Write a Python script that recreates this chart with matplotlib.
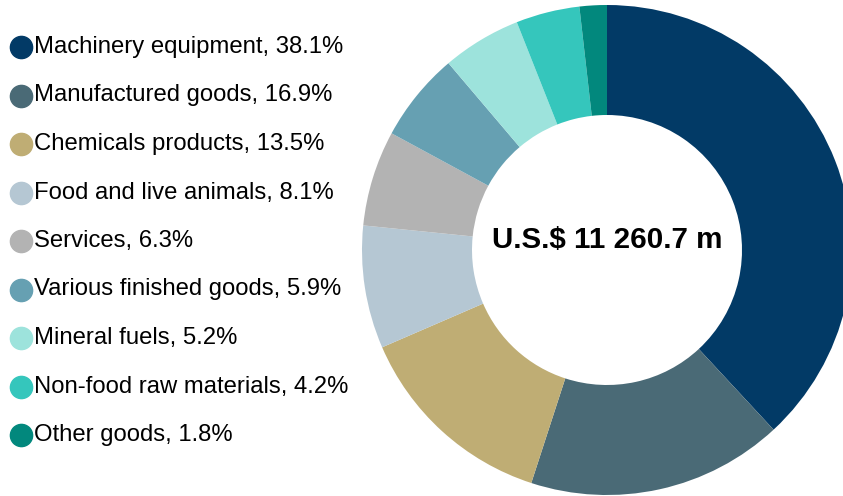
import matplotlib.pyplot as plt
from matplotlib.lines import Line2D

plt.rcParams['font.family'] = ['Liberation Sans', 'DejaVu Sans']

# Composicion de las exportaciones (porcentaje)
categorias = ['Machinery equipment', 'Manufactured goods', 'Chemicals products',
              'Food and live animals', 'Services', 'Various finished goods',
              'Mineral fuels', 'Non-food raw materials', 'Other goods']
porcentajes = [38.1, 16.9, 13.5, 8.1, 6.3, 5.9, 5.2, 4.2, 1.8]
colores = ['#023a66', '#4a6a76', '#bfad74', '#b5c7d3', '#b3b3b3',
           '#66a0b2', '#9de3dc', '#35c6bc', '#02887d']
total = 'U.S.$ 11 260.7 m'

W, H = 843, 496
fig = plt.figure(figsize=(W / 100, H / 100), dpi=100)

# Anillo: centro en (607, 250) px, radio exterior 245 px
cx, cy, r = 607, 250, 245
ax = fig.add_axes([(cx - r) / W, (H - cy - r) / H, 2 * r / W, 2 * r / H])
ax.pie(porcentajes, colors=colores, startangle=90, counterclock=False,
       radius=1, wedgeprops=dict(width=1 - 135 / 245, linewidth=0))
ax.set_xlim(-1, 1)
ax.set_ylim(-1, 1)
ax.set_aspect('equal')
ax.axis('off')

ax.text(0, 0.04, total, ha='center', va='center', fontsize=21.3,
        fontweight='bold', color='black')

# Leyenda a mano
y0, paso = 47, 48.5
for i, (cat, p, c) in enumerate(zip(categorias, porcentajes, colores)):
    y = 1 - (y0 + i * paso) / H
    fig.add_artist(Line2D([21 / W], [y], marker='o', markersize=16,
                          color=c, linestyle='none'))
    fig.text(34.5 / W, y, f'{cat}, {p}%', ha='left', va='center',
             fontsize=17.2, color='black')

fig.savefig('out.png', dpi=100)
